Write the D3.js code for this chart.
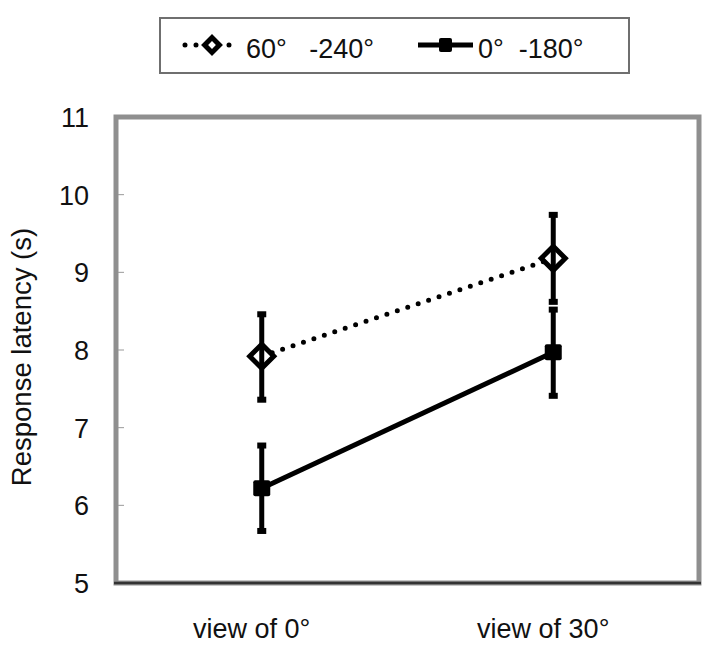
<!DOCTYPE html>
<html>
<head>
<meta charset="utf-8">
<script src="https://cdn.jsdelivr.net/npm/d3@7"></script>
<style>
  body { margin: 0; background: #fff; }
  text { font-family: "Liberation Sans", Arial, sans-serif; fill: #111; }
</style>
</head>
<body>
<div id="chart"></div>
<script>
const categories = ['view of 0°', 'view of 30°'];
const seriesNames = ['60°   -240°', '0°  -180°'];
const diamondMean = [7.92, 9.18];
const diamondLow = [7.36, 8.62];
const diamondHigh = [8.46, 9.74];
const squareMean = [6.22, 7.97];
const squareLow = [5.67, 7.41];
const squareHigh = [6.77, 8.52];
const yTicks = [5, 6, 7, 8, 9, 10, 11];

const width = 719;
const height = 648;
const box = { left: 116, right: 699, top: 117, bottom: 583 };

const svg = d3.select('#chart')
              .append('svg')
              .attr('width', width)
              .attr('height', height);

const x = d3.scalePoint()
            .domain(categories)
            .range([box.left, box.right])
            .padding(0.5);

const y = d3.scaleLinear()
            .domain([5, 11])
            .range([box.bottom, box.top]);

// plot frame
svg.append('rect')
   .attr('x', box.left)
   .attr('y', box.top)
   .attr('width', box.right - box.left)
   .attr('height', box.bottom - box.top)
   .attr('fill', 'none')
   .attr('stroke', '#8f8f8f')
   .attr('stroke-width', 5);

// small inner ticks
svg.selectAll('.tick-mark')
   .data(yTicks.slice(1, -1))
   .enter()
   .append('line')
   .attr('x1', box.left + 2)
   .attr('x2', box.left + 8)
   .attr('y1', d => y(d))
   .attr('y2', d => y(d))
   .attr('stroke', '#999')
   .attr('stroke-width', 1);

// y tick labels
svg.selectAll('.ylab')
   .data(yTicks)
   .enter()
   .append('text')
   .attr('x', 89)
   .attr('y', d => y(d) + 10)
   .attr('text-anchor', 'end')
   .style('font-size', '27px')
   .text(d => d);

// x axis line (darker)
svg.append('line')
   .attr('x1', box.left - 2)
   .attr('x2', box.right + 2)
   .attr('y1', y(5))
   .attr('y2', y(5))
   .attr('stroke', '#333')
   .attr('stroke-width', 2.5);

// category labels
svg.selectAll('.xlab')
   .data(categories)
   .enter()
   .append('text')
   .attr('x', d => x(d) - 10)
   .attr('y', 638)
   .attr('text-anchor', 'middle')
   .style('font-size', '27px')
   .text(d => d);

// axis title
svg.append('text')
   .attr('transform', 'translate(31, 357) rotate(-90)')
   .attr('text-anchor', 'middle')
   .style('font-size', '27.5px')
   .text('Response latency (s)');

const line = d3.line()
               .x((d, i) => x(categories[i]))
               .y(d => y(d));

// connecting lines
svg.append('path')
   .datum(diamondMean)
   .attr('d', line)
   .attr('fill', 'none')
   .attr('stroke', '#000')
   .attr('stroke-width', 5)
   .attr('stroke-linecap', 'round')
   .attr('stroke-dasharray', '0 11');

svg.append('path')
   .datum(squareMean)
   .attr('d', line)
   .attr('fill', 'none')
   .attr('stroke', '#000')
   .attr('stroke-width', 5);

// diamond markers
const diamond = d3.symbol().type(d3.symbolSquare).size(290);
svg.selectAll('.diamond')
   .data(diamondMean)
   .enter()
   .append('path')
   .attr('d', diamond)
   .attr('transform', (d, i) => `translate(${x(categories[i])},${y(d)}) rotate(45)`)
   .attr('fill', '#fff')
   .attr('stroke', '#000')
   .attr('stroke-width', 5);

// square markers
svg.selectAll('.square')
   .data(squareMean)
   .enter()
   .append('rect')
   .attr('x', (d, i) => x(categories[i]) - 8.5)
   .attr('y', d => y(d) - 8)
   .attr('width', 17)
   .attr('height', 16)
   .attr('rx', 2)
   .attr('fill', '#000');

// error bars
function errorBars(low, high) {
  const g = svg.append('g');
  low.forEach((lo, i) => {
    const cx = x(categories[i]);
    g.append('line')
     .attr('x1', cx).attr('x2', cx)
     .attr('y1', y(high[i])).attr('y2', y(lo))
     .attr('stroke', '#000')
     .attr('stroke-width', 5);
    [lo, high[i]].forEach(v => {
      g.append('rect')
       .attr('x', cx - 4.5)
       .attr('y', y(v) - 3)
       .attr('width', 9)
       .attr('height', 6)
       .attr('fill', '#000');
    });
  });
}
errorBars(diamondLow, diamondHigh);
errorBars(squareLow, squareHigh);

// legend
const legend = svg.append('g');
legend.append('rect')
      .attr('x', 160)
      .attr('y', 18)
      .attr('width', 469)
      .attr('height', 55)
      .attr('fill', '#fff')
      .attr('stroke', '#6f6f6f')
      .attr('stroke-width', 2);

legend.append('line')
      .attr('x1', 185).attr('x2', 239)
      .attr('y1', 45).attr('y2', 45)
      .attr('stroke', '#000')
      .attr('stroke-width', 5)
      .attr('stroke-linecap', 'round')
      .attr('stroke-dasharray', '0 11');
legend.append('path')
      .attr('d', d3.symbol().type(d3.symbolSquare).size(110))
      .attr('transform', 'translate(212,45) rotate(45)')
      .attr('fill', '#fff')
      .attr('stroke', '#000')
      .attr('stroke-width', 5);

legend.append('line')
      .attr('x1', 418).attr('x2', 473)
      .attr('y1', 45).attr('y2', 45)
      .attr('stroke', '#000')
      .attr('stroke-width', 5);
legend.append('rect')
      .attr('x', 439).attr('y', 38)
      .attr('width', 13).attr('height', 14)
      .attr('rx', 2)
      .attr('fill', '#000');

const legendX = [246, 478];
legend.selectAll('.legtext')
      .data(seriesNames)
      .enter()
      .append('text')
      .attr('x', (d, i) => legendX[i])
      .attr('y', 58)
      .style('font-size', '27px')
      .style('white-space', 'pre')
      .text(d => d);
</script>
</body>
</html>
